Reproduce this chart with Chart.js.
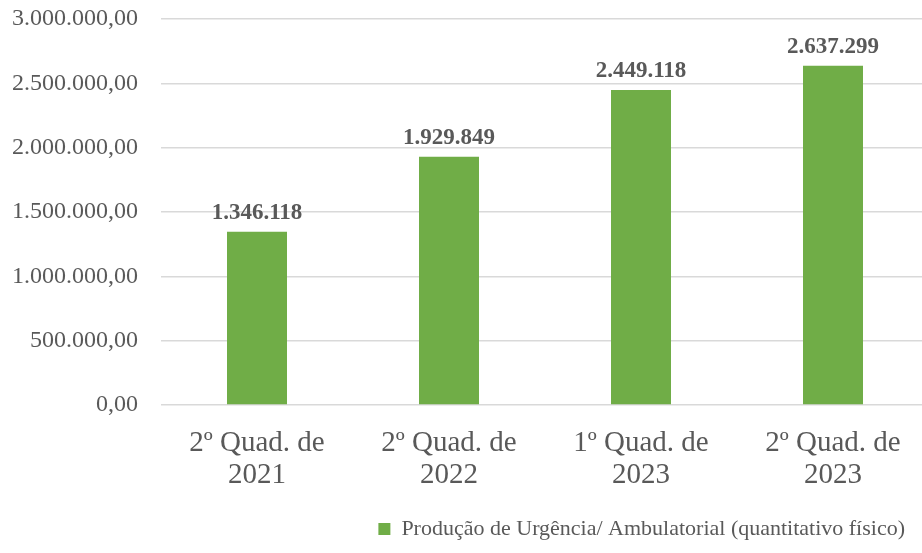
<!DOCTYPE html>
<html>
<head>
<meta charset="utf-8">
<script src="https://cdn.jsdelivr.net/npm/chart.js@4.4.1/dist/chart.umd.min.js"></script>
<style>
  html, body { margin: 0; padding: 0; background: #fff; overflow: hidden; }
  #wrap { width: 929px; height: 553px; }
</style>
</head>
<body>
<div id="wrap"><canvas id="canvas" width="929" height="553"></canvas></div>
<script>
// dados
var categorias = [["2º Quad. de", "2021"], ["2º Quad. de", "2022"], ["1º Quad. de", "2023"], ["2º Quad. de", "2023"]];
var producao = [1346118, 1929849, 2449118, 2637299];
var serieNome = "Produção de Urgência/ Ambulatorial (quantitativo físico)";
var eixoY = { min: 0, max: 3000000, passo: 500000 };

var verde = '#70AD47';
var texto = '#595959';
var fonte = '"Liberation Serif", "Times New Roman", serif';

var fmtEixo = new Intl.NumberFormat('pt-BR', { minimumFractionDigits: 2, maximumFractionDigits: 2 });
var fmtRotulo = new Intl.NumberFormat('pt-BR', { maximumFractionDigits: 0 });

// rotulos em cima das barras
var rotulos = {
    id: 'rotulos',
    afterDatasetsDraw: function (chart) {
        var ctx = chart.ctx;
        var meta = chart.getDatasetMeta(0);
        ctx.save();
        ctx.font = 'bold 23px ' + fonte;
        ctx.fillStyle = texto;
        ctx.textAlign = 'center';
        ctx.textBaseline = 'alphabetic';
        meta.data.forEach(function (bar, i) {
            ctx.fillText(fmtRotulo.format(chart.data.datasets[0].data[i]), bar.x, bar.y - 13);
        });
        ctx.restore();
    }
};

// legenda um pouco mais para a esquerda
var ajusteLegenda = {
    id: 'ajusteLegenda',
    afterLayout: function (chart) {
        chart.legend.right -= 12;
    }
};

var cfg = {
    type: 'bar',
    data: {
        labels: categorias,
        datasets: [{
            label: serieNome,
            data: producao,
            backgroundColor: verde,
            borderWidth: 0,
            categoryPercentage: 1,
            barPercentage: 0.3125
        }]
    },
    options: {
        responsive: false,
        animation: false,
        layout: { padding: { top: 0, left: 12, right: 0, bottom: 3 } },
        plugins: {
            legend: {
                position: 'bottom',
                align: 'end',
                labels: {
                    boxWidth: 12,
                    boxHeight: 12,
                    padding: 12,
                    color: texto,
                    font: { family: fonte, size: 22 }
                }
            },
            tooltip: { enabled: false }
        },
        scales: {
            x: {
                grid: { display: false },
                border: { display: false },
                ticks: {
                    color: texto,
                    padding: 14,
                    maxRotation: 0,
                    autoSkip: false,
                    font: { family: fonte, size: 29, lineHeight: 1.12 }
                },
                afterFit: function (s) { s.paddingLeft = 0; s.paddingRight = 0; }
            },
            y: {
                min: eixoY.min,
                max: eixoY.max,
                grid: { color: '#D9D9D9', lineWidth: 1.5, drawTicks: false },
                border: { display: false },
                ticks: {
                    stepSize: eixoY.passo,
                    color: texto,
                    padding: 23,
                    font: { family: fonte, size: 24 },
                    callback: function (v) { return fmtEixo.format(v); }
                },
                afterFit: function (s) {
                    s.paddingTop = 19;
                    s.paddingBottom = 14;
                    s.width -= 23;
                }
            }
        }
    },
    plugins: [rotulos, ajusteLegenda]
};

window.onload = function () {
    window.meuGrafico = new Chart(document.getElementById('canvas'), cfg);
};
</script>
</body>
</html>
